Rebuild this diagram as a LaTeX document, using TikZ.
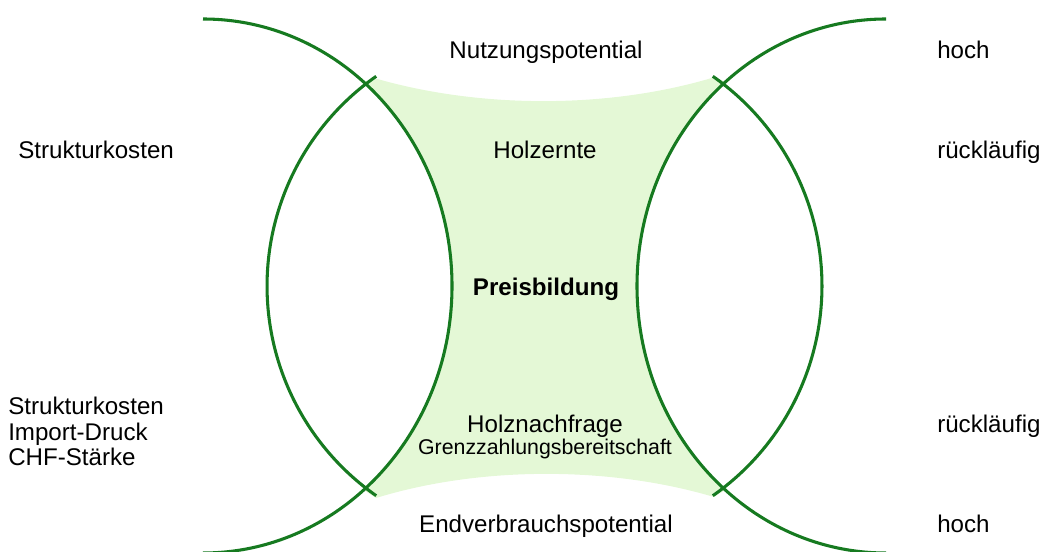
\documentclass[tikz,border=0pt]{standalone}
\usepackage{fontspec}
\setmainfont{Liberation Sans}
\definecolor{arcgreen}{RGB}{22,122,32}
\definecolor{fillgreen}{RGB}{228,248,214}
\begin{document}
\begin{tikzpicture}[x=0.75pt,y=-0.75pt,
  arcline/.style={draw=arcgreen,line width=2.3pt},
  lbl/.style={inner sep=0pt,font=\fontsize{18.1}{21.6}\selectfont},
  smalllbl/.style={inner sep=0pt,font=\fontsize{16}{19}\selectfont}]
\useasboundingbox (0,0) rectangle (1044,552);
% green region
\fill[fillgreen] (374,78) .. controls (480,109) and (610,109) .. (715,77)
  -- (725.3,82) arc[start angle=229.8,end angle=130.2,x radius=249,y radius=267]
  -- (714,497) .. controls (610,466) and (480,466) .. (376,498)
  -- (363.7,490) arc[start angle=49.8,end angle=-49.8,x radius=249,y radius=267] -- cycle;
% arcs
\draw[arcline] (203,19) arc[start angle=-90,end angle=90,x radius=249,y radius=267];
\draw[arcline] (376.2,76.3) arc[start angle=235,end angle=125,x radius=256,y radius=256];
\draw[arcline] (886,19) arc[start angle=270,end angle=90,x radius=249,y radius=267];
\draw[arcline] (712.8,76.3) arc[start angle=-55,end angle=55,x radius=256,y radius=256];
% centre texts
\node[lbl,anchor=base] (nutz) at (546,58.8) {Nutzungspotential};
\node[lbl,anchor=base] (holz) at (545,158.2) {Holzernte};
\node[lbl,anchor=base,font=\bfseries\fontsize{18.1}{21.6}\selectfont] (preis) at (546,295.5) {Preisbildung};
\node[lbl,anchor=base] (nach) at (545,432.2) {Holznachfrage};
\node[smalllbl,anchor=base] (grenz) at (545,454.5) {Grenzzahlungsbereitschaft};
\node[lbl,anchor=base] (endv) at (546,532.2) {Endverbrauchspotential};
% left texts
\node[lbl,anchor=base west] (sk1) at (18,158.2) {Strukturkosten};
\node[lbl,anchor=base west] (sk2) at (8,414.5) {Strukturkosten};
\node[lbl,anchor=base west] (imp) at (8,440) {Import-Druck};
\node[lbl,anchor=base west] (chf) at (8,465) {CHF-Stärke};
% right texts
\node[lbl,anchor=base west] (r1) at (937,58.5) {hoch};
\node[lbl,anchor=base west] (r2) at (937,158.2) {rückläufig};
\node[lbl,anchor=base west] (r3) at (937,432.2) {rückläufig};
\node[lbl,anchor=base west] (r4) at (937,532.2) {hoch};
\end{tikzpicture}
\end{document}
